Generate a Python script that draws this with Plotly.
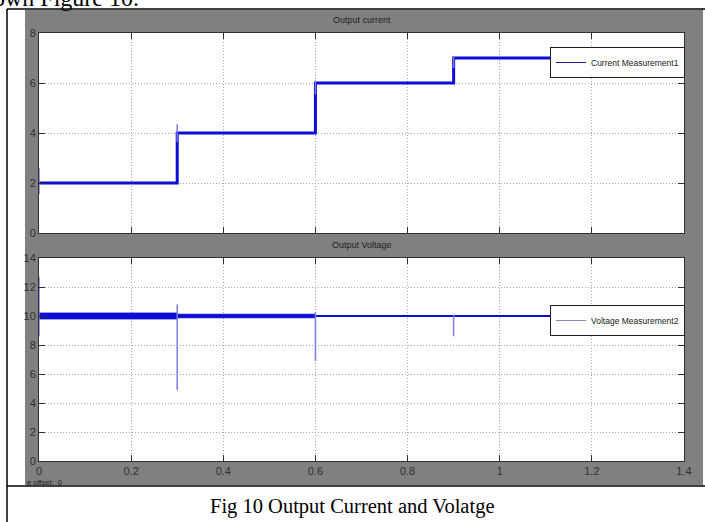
import plotly.graph_objects as go

W, H = 705, 522

# ---------------- data ----------------
x_ticks = [0, 0.2, 0.4, 0.6, 0.8, 1.0, 1.2, 1.4]
x_tick_labels = ["0", "0.2", "0.4", "0.6", "0.8", "1", "1.2", "1.4"]
current_ticks = [0, 2, 4, 6, 8]
voltage_ticks = [0, 2, 4, 6, 8, 10, 12, 14]

current_t = [0.0, 0.3, 0.3, 0.6, 0.6, 0.9, 0.9, 1.4]
current_a = [2, 2, 4, 4, 6, 6, 7, 7]
current_spike_t = [0.0, 0.0, None, 0.3, 0.3, None, 0.6, 0.6, None, 0.9, 0.9]
current_spike_a = [1.55, 2.6, None, 3.65, 4.35, None, 5.55, 6.1, None, 6.6, 7.05]

voltage_t = [0.0, 1.4]
voltage_v = [10, 10]
ripple_t = [0.0, 0.3, 0.3, 0.6]
ripple_hi = [10.2, 10.2, 10.12, 10.12]
ripple_lo = [9.8, 9.8, 9.88, 9.88]
voltage_spike_t = [0.0, 0.0, None, 0.3, 0.3, None, 0.6, 0.6, None, 0.9, 0.9]
voltage_spike_v = [8.6, 12.7, None, 4.9, 10.8, None, 6.9, 10.25, None, 8.6, 10.1]

# ---------------- helpers ----------------
def px(x):
    return x / W

def py(y):
    return 1 - y / H

SANS = "Liberation Sans Narrow, Liberation Sans, Arial, sans-serif"
SERIF = "Liberation Serif, Times New Roman, serif"
BLUE = "#0d0dd6"
SPIKE = "#7a7ae6"

fig = go.Figure()

# top: current
fig.add_trace(go.Scatter(x=current_t, y=current_a, mode="lines",
                         line=dict(color=BLUE, width=3), showlegend=False,
                         xaxis="x", yaxis="y"))
fig.add_trace(go.Scatter(x=current_spike_t, y=current_spike_a, mode="lines",
                         line=dict(color=SPIKE, width=1.5), showlegend=False,
                         xaxis="x", yaxis="y"))
fig.add_trace(go.Scatter(x=[None], y=[None], mode="lines", name="Current Measurement1",
                         line=dict(color="#1a1a8c", width=1), legend="legend",
                         xaxis="x", yaxis="y"))

# bottom: voltage
fig.add_trace(go.Scatter(x=ripple_t, y=ripple_hi, mode="lines",
                         line=dict(color=BLUE, width=1), showlegend=False,
                         xaxis="x2", yaxis="y2"))
fig.add_trace(go.Scatter(x=ripple_t, y=ripple_lo, mode="lines", fill="tonexty",
                         fillcolor=BLUE, line=dict(color=BLUE, width=1), showlegend=False,
                         xaxis="x2", yaxis="y2"))
fig.add_trace(go.Scatter(x=voltage_t, y=voltage_v, mode="lines",
                         line=dict(color=BLUE, width=2.2), showlegend=False,
                         xaxis="x2", yaxis="y2"))
fig.add_trace(go.Scatter(x=voltage_spike_t, y=voltage_spike_v, mode="lines",
                         line=dict(color=SPIKE, width=1.5), showlegend=False,
                         xaxis="x2", yaxis="y2"))
fig.add_trace(go.Scatter(x=[None], y=[None], mode="lines", name="Voltage Measurement2",
                         line=dict(color="#8a8ab8", width=1), legend="legend2",
                         xaxis="x2", yaxis="y2"))

axis_common = dict(showline=True, linecolor="#303030", linewidth=1, mirror="ticks",
                   ticks="inside", ticklen=6, tickcolor="#303030",
                   showgrid=True, gridcolor="#a8a8a8", griddash="1px,2px", gridwidth=1,
                   zeroline=False,
                   tickfont=dict(family=SANS, size=11, color="#303030"))

X0, X1 = 39, 684
TOP = (33, 233)
BOT = (258, 461)
PANEL_BOTTOM = 485

legend_common = dict(xanchor="right", yanchor="top",
                     bgcolor="white", bordercolor="#202020", borderwidth=1,
                     font=dict(family=SANS, size=8.5, color="#202020"),
                     itemwidth=30, tracegroupgap=0)

fig.update_layout(
    width=W, height=H, autosize=False,
    margin=dict(l=0, r=0, t=0, b=0, pad=0, autoexpand=False),
    paper_bgcolor="white", plot_bgcolor="white",
    xaxis=dict(domain=[px(X0), px(X1)], anchor="y", range=[0, 1.4],
               tickvals=x_ticks, showticklabels=False, **axis_common),
    yaxis=dict(domain=[py(TOP[1]), py(TOP[0])], anchor="x", range=[0, 8],
               tickvals=current_ticks, **axis_common),
    xaxis2=dict(domain=[px(X0), px(X1)], anchor="y2", range=[0, 1.4],
                tickvals=x_ticks, ticktext=x_tick_labels, ticklabelstandoff=0,
                **axis_common),
    yaxis2=dict(domain=[py(BOT[1]), py(BOT[0])], anchor="x2", range=[0, 14],
                tickvals=voltage_ticks, **axis_common),
    legend=dict(x=px(685), y=py(47), **legend_common),
    legend2=dict(x=px(685), y=py(305), **legend_common),
    showlegend=True,
)

shapes = [
    # gray scope panel
    dict(type="rect", xref="paper", yref="paper", x0=px(25), x1=px(701), y0=py(PANEL_BOTTOM), y1=py(10),
         fillcolor="#808080", line=dict(width=0), layer="below"),
    # white plot areas
    dict(type="rect", xref="paper", yref="paper", x0=px(X0), x1=px(X1), y0=py(TOP[1]), y1=py(TOP[0]),
         fillcolor="white", line=dict(width=0), layer="below"),
    dict(type="rect", xref="paper", yref="paper", x0=px(X0), x1=px(X1), y0=py(BOT[1]), y1=py(BOT[0]),
         fillcolor="white", line=dict(width=0), layer="below"),
    # frame lines
    dict(type="line", xref="paper", yref="paper", x0=px(7), x1=px(705), y0=py(9), y1=py(9),
         line=dict(color="black", width=1.5)),
    dict(type="line", xref="paper", yref="paper", x0=px(7), x1=px(7), y0=py(9), y1=py(522),
         line=dict(color="black", width=1.5)),
    dict(type="line", xref="paper", yref="paper", x0=px(7), x1=px(705), y0=py(PANEL_BOTTOM + 1),
         y1=py(PANEL_BOTTOM + 1), line=dict(color="black", width=1.5)),
    dict(type="line", xref="paper", yref="paper", x0=px(702), x1=px(702), y0=py(9), y1=py(PANEL_BOTTOM),
         line=dict(color="black", width=1)),
]
fig.update_layout(shapes=shapes)

annotations = [
    dict(text="Output current", x=px((X0 + X1) / 2), y=py(20), xref="paper", yref="paper",
         xanchor="center", yanchor="middle",
         showarrow=False, font=dict(family=SANS, size=9, color="#202020")),
    dict(text="Output Voltage", x=px((X0 + X1) / 2), y=py(245), xref="paper", yref="paper",
         xanchor="center", yanchor="middle",
         showarrow=False, font=dict(family=SANS, size=9, color="#202020")),
    dict(text="e offset:  0", x=px(25), y=py(482), xref="paper", yref="paper",
         xanchor="left", yanchor="middle",
         showarrow=False, font=dict(family=SANS, size=7.5, color="#202020")),
    dict(text="Fig 10 Output Current and Volatge", x=px(352), y=py(506), xref="paper", yref="paper",
         xanchor="center", yanchor="middle",
         showarrow=False, font=dict(family=SERIF, size=20.5, color="black")),
    dict(text="own Figure 10.", x=px(-9), y=py(-2), xref="paper", yref="paper",
         xanchor="left", yanchor="middle", showarrow=False,
         font=dict(family=SERIF, size=24, color="black")),
]
fig.update_layout(annotations=annotations)

fig.write_html("out.html", config={"displayModeBar": False},
               post_script="document.body.style.margin='0';document.body.style.padding='0';")
